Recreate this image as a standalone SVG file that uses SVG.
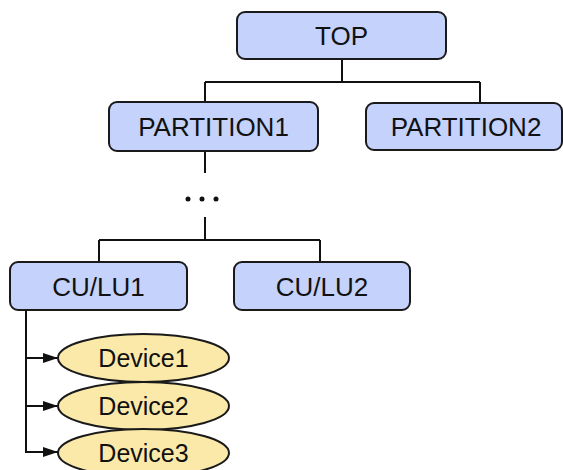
<svg xmlns="http://www.w3.org/2000/svg" width="563" height="470" viewBox="0 0 563 470">
  <style>
    .box { fill: #c5d2fc; stroke: #1a1a1a; stroke-width: 2; }
    .dev { fill: #fbe9a9; stroke: #1a1a1a; stroke-width: 2; }
    .lbl { font-family: "Liberation Sans", Arial, sans-serif; font-size: 26px; fill: #111; text-anchor: middle; }
    .dlbl { font-family: "Liberation Sans", Arial, sans-serif; font-size: 25px; fill: #111; text-anchor: middle; }
    .wire { fill: none; stroke: #111; stroke-width: 2; }
  </style>
  <defs>
    <marker id="arrow" markerWidth="15" markerHeight="10" refX="15" refY="5" orient="auto" markerUnits="userSpaceOnUse">
      <path d="M0,0 L15,5 L0,10 Z" fill="#111"/>
    </marker>
  </defs>

  <!-- connectors -->
  <g id="connectors">
    <path class="wire" d="M342,59 V82 M205,82 H480 M205,82 V102 M480,82 V103"/>
    <path class="wire" d="M205,151 V173 M205,217 V240 M99,240 H320 M99,240 V262 M320,240 V262"/>
    <path class="wire" d="M26,310 V452"/>
    <line class="wire" x1="26" y1="358" x2="58" y2="358" marker-end="url(#arrow)"/>
    <line class="wire" x1="26" y1="406" x2="58" y2="406" marker-end="url(#arrow)"/>
    <line class="wire" x1="25" y1="452" x2="58" y2="452" marker-end="url(#arrow)"/>
    <g id="ellipsis" fill="#111">
      <circle cx="188" cy="199" r="2.5"/>
      <circle cx="202" cy="199" r="2.5"/>
      <circle cx="216" cy="199" r="2.5"/>
    </g>
  </g>

  <g id="top">
    <rect class="box" x="237" y="12" width="209" height="47" rx="8"/>
    <text class="lbl" x="341.5" y="45">TOP</text>
  </g>
  <g id="partition1">
    <rect class="box" x="109" y="102" width="209" height="49" rx="8"/>
    <text class="lbl" x="213.5" y="136">PARTITION1</text>
  </g>
  <g id="partition2">
    <rect class="box" x="366" y="103" width="196" height="47" rx="8"/>
    <text class="lbl" x="466" y="136">PARTITION2</text>
  </g>
  <g id="culu1">
    <rect class="box" x="10" y="262" width="177" height="48" rx="8"/>
    <text class="lbl" x="98.5" y="295.5">CU/LU1</text>
  </g>
  <g id="culu2">
    <rect class="box" x="234" y="262" width="176" height="48" rx="8"/>
    <text class="lbl" x="322" y="295.5">CU/LU2</text>
  </g>
  <g id="device1">
    <ellipse class="dev" cx="143.5" cy="358" rx="85.5" ry="24"/>
    <text class="dlbl" x="143.5" y="366.5">Device1</text>
  </g>
  <g id="device2">
    <ellipse class="dev" cx="143.5" cy="406" rx="85.5" ry="24"/>
    <text class="dlbl" x="143.5" y="414.5">Device2</text>
  </g>
  <g id="device3">
    <ellipse class="dev" cx="143.5" cy="453" rx="85.5" ry="24"/>
    <text class="dlbl" x="143.5" y="461.5">Device3</text>
  </g>
</svg>
